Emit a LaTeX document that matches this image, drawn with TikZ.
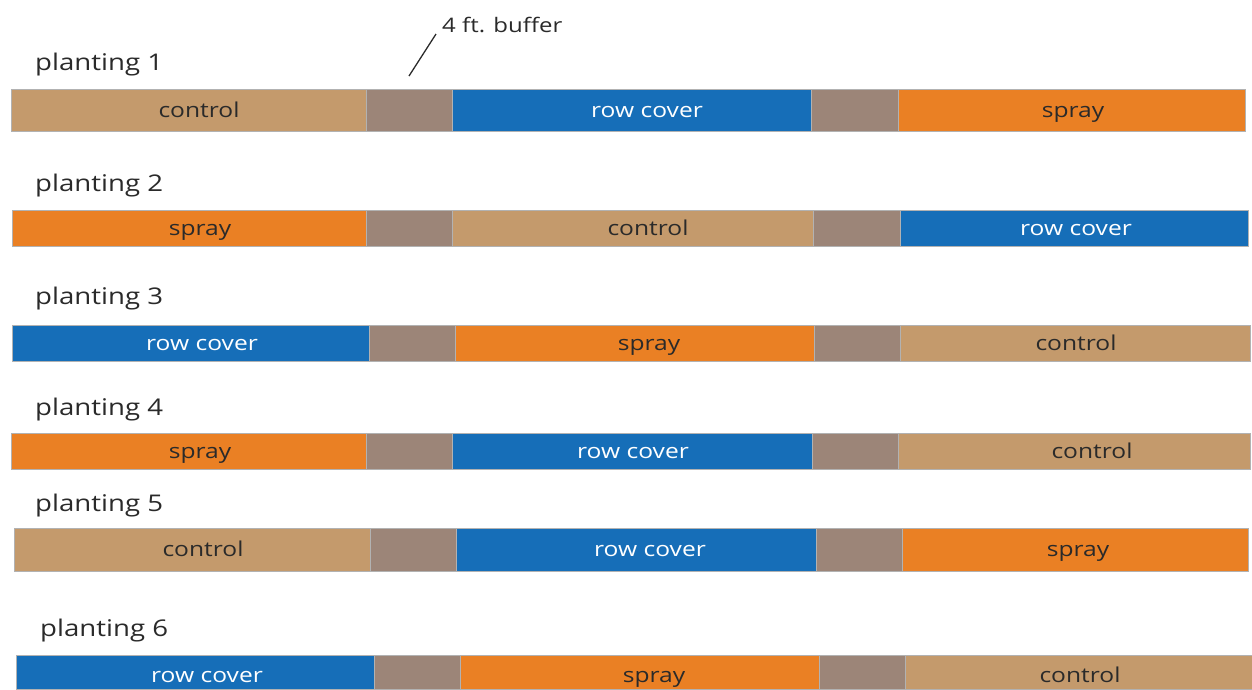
\documentclass[tikz,border=0pt]{standalone}
\usepackage{fontspec}
\setmainfont[FakeStretch=1.2]{Open Sans}
\definecolor{ctlc}{HTML}{C49A6C}
\definecolor{bufc}{HTML}{9C8578}
\definecolor{rcc}{HTML}{166EB8}
\definecolor{spc}{HTML}{EA8024}
\definecolor{txt}{HTML}{2A2A2A}
\tikzset{
  ctl/.style={fill=ctlc},
  buf/.style={fill=bufc},
  rc/.style={fill=rcc},
  sp/.style={fill=spc},
  segedge/.style={draw=black!30, line width=0.4pt},
  darklab/.style={text=txt, font=\fontsize{20.5}{24}\selectfont, inner sep=0pt},
  lightlab/.style={text=white, font=\fontsize{20.5}{24}\selectfont, inner sep=0pt},
  head/.style={text=txt, font=\fontsize{23}{27}\selectfont, inner sep=0pt, anchor=base west},
  note/.style={text=txt, font=\fontsize{20}{24}\selectfont, inner sep=0pt, anchor=base west},
}
\newcommand\segm[5]{\path[segedge,#5] (#1,#3) rectangle (#2,#4);}
\newcommand\lab[5]{\node[#4, anchor=base] (#1) at (#2,#3) {#5};}
\begin{document}
\begin{tikzpicture}[x=1pt,y=-1pt]
\useasboundingbox (0,0) rectangle (1252,689);
% row 1
\node[head] (h1) at (35,70) {planting 1};
\segm{11}{366}{89}{131}{ctl}
\segm{366}{452}{89}{131}{buf}
\segm{452}{811}{89}{131}{rc}
\segm{811}{898}{89}{131}{buf}
\segm{898}{1245}{89}{131}{sp}
\lab{l1a}{199}{117}{darklab}{control}
\lab{l1b}{647}{117}{lightlab}{row cover}
\lab{l1c}{1073}{117}{darklab}{spray}
% buffer note
\node[note] (bufnote) at (442,32) {4 ft. buffer};
\coordinate (bufa) at (409,76);
\coordinate (bufb) at (436,34);
\draw[txt, line width=1.3pt] (bufa) -- (bufb);
% row 2
\node[head] (h2) at (35,191) {planting 2};
\segm{12}{366}{210}{246}{sp}
\segm{366}{452}{210}{246}{buf}
\segm{452}{813}{210}{246}{ctl}
\segm{813}{900}{210}{246}{buf}
\segm{900}{1248}{210}{246}{rc}
\lab{l2a}{200}{235}{darklab}{spray}
\lab{l2b}{648}{235}{darklab}{control}
\lab{l2c}{1076}{235}{lightlab}{row cover}
% row 3
\node[head] (h3) at (35,304) {planting 3};
\segm{12}{369}{325}{361}{rc}
\segm{369}{455}{325}{361}{buf}
\segm{455}{814}{325}{361}{sp}
\segm{814}{900}{325}{361}{buf}
\segm{900}{1250}{325}{361}{ctl}
\lab{l3a}{202}{350}{lightlab}{row cover}
\lab{l3b}{649}{350}{darklab}{spray}
\lab{l3c}{1076}{350}{darklab}{control}
% row 4
\node[head] (h4) at (35,415) {planting 4};
\segm{11}{366}{433}{469}{sp}
\segm{366}{452}{433}{469}{buf}
\segm{452}{812}{433}{469}{rc}
\segm{812}{898}{433}{469}{buf}
\segm{898}{1250}{433}{469}{ctl}
\lab{l4a}{200}{458}{darklab}{spray}
\lab{l4b}{633}{458}{lightlab}{row cover}
\lab{l4c}{1092}{458}{darklab}{control}
% row 5
\node[head] (h5) at (35,511) {planting 5};
\segm{14}{370}{528}{571}{ctl}
\segm{370}{456}{528}{571}{buf}
\segm{456}{816}{528}{571}{rc}
\segm{816}{902}{528}{571}{buf}
\segm{902}{1248}{528}{571}{sp}
\lab{l5a}{203}{556}{darklab}{control}
\lab{l5b}{650}{556}{lightlab}{row cover}
\lab{l5c}{1078}{556}{darklab}{spray}
% row 6
\node[head] (h6) at (40,636) {planting 6};
\segm{16}{374}{655}{689}{rc}
\segm{374}{460}{655}{689}{buf}
\segm{460}{819}{655}{689}{sp}
\segm{819}{905}{655}{689}{buf}
\segm{905}{1252}{655}{689}{ctl}
\lab{l6a}{207}{682}{lightlab}{row cover}
\lab{l6b}{654}{682}{darklab}{spray}
\lab{l6c}{1080}{682}{darklab}{control}
\end{tikzpicture}
\end{document}
